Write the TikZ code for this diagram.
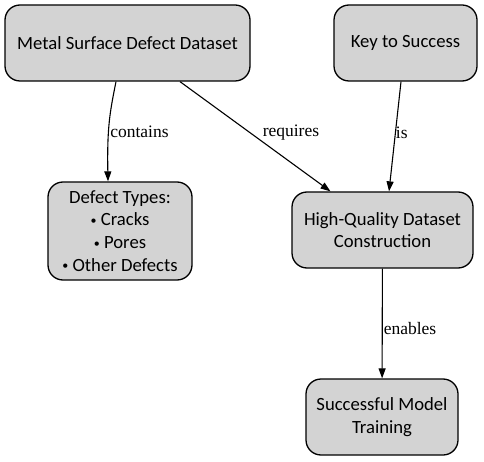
\documentclass[tikz,border=0pt]{standalone}
\usepackage{fontspec}
\setmainfont{Liberation Serif}
\newfontfamily\boxfont{Carlito}
\usetikzlibrary{arrows.meta}
\definecolor{boxgray}{RGB}{211,211,211}
\newcommand\smallbullet{{\fontsize{12}{12}\selectfont\raisebox{1.6pt}{\textbullet}}}

\begin{document}
\begin{tikzpicture}[
  x=1pt,y=-1pt,
  font=\fontsize{17.5}{21}\selectfont,
  box/.style={draw,line width=1.3pt,rounded corners=15pt,fill=boxgray,align=center,
    font=\boxfont\fontsize{18.67}{22.7}\selectfont,minimum height=76pt,inner sep=2pt},
  edge/.style={->,line width=1.1pt},
  lbl/.style={anchor=west,inner sep=1pt},
  >={Triangle[length=10pt,width=7pt]}
]
\useasboundingbox (0,0) rectangle (484,462);
% ---------------- top row ----------------
\node[box,minimum width=245pt] (ds) at (127.5,43) {Metal Surface Defect Dataset};
\node[box,minimum width=143pt] (key) at (405.5,43) {Key to Success};

% ---------------- middle row ----------------
\node[box,minimum width=144pt,minimum height=98pt] (types) at (120,231)
     {Defect Types:\\\smallbullet{} Cracks\\\smallbullet{} Pores\\\smallbullet{} Other Defects};
\node[box,minimum width=181pt] (hq) at (382.5,230) {High-Quality Dataset\\Construction};

% ---------------- bottom ----------------
\node[box,minimum width=152pt] (train) at (382,417) {Successful Model\\Training};

% ---------------- edges ----------------
\draw[edge] ([xshift=-11.5pt]ds.south) .. controls ([xshift=-17.5pt,yshift=-30pt]ds.south)
     and ([xshift=-13pt,yshift=55pt]types.north) .. ([xshift=-12pt]types.north)
     node[lbl,pos=0.58,yshift=-3pt] {contains};
\draw[edge] ([xshift=52.5pt]ds.south) -- ([xshift=-52pt]hq.north)
     node[lbl,pos=0.46,xshift=12pt] {requires};
\draw[edge] ([xshift=-4.5pt]key.south) -- ([xshift=6.5pt]hq.north)
     node[lbl,pos=0.47,inner sep=0pt] {is};
\draw[edge] (hq) -- (train) node[lbl,pos=0.55] {enables};
\end{tikzpicture}
\end{document}
